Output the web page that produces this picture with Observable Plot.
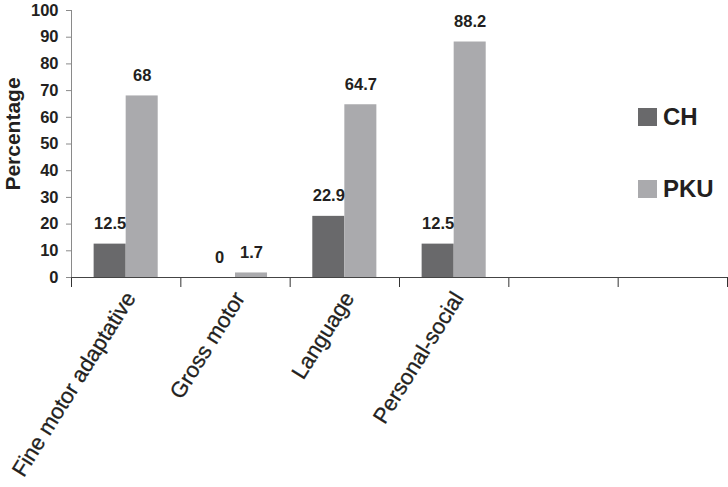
<!DOCTYPE html>
<html>
<head>
<meta charset="utf-8">
<script src="https://cdn.jsdelivr.net/npm/d3@7"></script>
<script src="https://cdn.jsdelivr.net/npm/@observablehq/plot@0.6"></script>
<style>
  html, body { margin: 0; padding: 0; background: #fff; }
  #wrap { position: relative; width: 728px; height: 487px; font-family: "Liberation Sans", Arial, sans-serif; color: #231f20; }
  #wrap svg [aria-label^="y-axis"] line, #wrap svg [aria-label^="y-axis"] path { stroke: #8a8a8a; }
  #wrap svg [aria-label^="x-axis"] line, #wrap svg [aria-label^="x-axis"] path { stroke: #333; }
  .leg { position: absolute; left: 638px; display: flex; align-items: center; font-weight: bold; font-size: 24px; }
  .leg .sw { width: 19px; height: 18px; margin-right: 6px; }
</style>
</head>
<body>
<div id="wrap"></div>
<script>
// ---- data ----
const categories = ["Fine motor adaptative", "Gross motor", "Language", "Personal-social", "", ""];
const series = ["CH", "PKU"];
const chValues = [12.5, 0, 22.9, 12.5];
const pkuValues = [68, 1.7, 64.7, 88.2];
const valueLabels = [["12.5", "0", "22.9", "12.5"], ["68", "1.7", "64.7", "88.2"]];
const yTicks = [0, 10, 20, 30, 40, 50, 60, 70, 80, 90, 100];
const colors = ["#69696b", "#aaaaad"];
const yLabel = "Percentage";

// ---- layout helpers (group padding within each category band) ----
const groupPad = 0.207, barW = 0.293;
const rows = [];
[chValues, pkuValues].forEach((vals, s) => {
  vals.forEach((v, i) => {
    const x1 = i + groupPad + s * barW;
    rows.push({cat: categories[i], series: series[s], value: v, x1, x2: x1 + barW, xm: x1 + barW / 2, label: valueLabels[s][i]});
  });
});
const catRows = categories.map((c, i) => ({c, xc: i + 0.5}));
const boundaries = categories.map((c, i) => i).concat([categories.length]);

const chart = Plot.plot({
  width: 728,
  height: 487,
  marginLeft: 71,
  marginRight: 1,
  marginTop: 10,
  marginBottom: 210,
  style: {fontFamily: "'Liberation Sans', Arial, sans-serif", fontSize: "16.5px", fontWeight: "bold", color: "#231f20", background: "#fff"},
  x: {type: "linear", domain: [0, categories.length], ticks: boundaries, tickSize: 10, tickFormat: () => "", label: null},
  y: {domain: [0, 100], ticks: yTicks, tickSize: 5, tickPadding: 8, label: null},
  color: {domain: series, range: colors},
  marks: [
    Plot.ruleX([0], {y1: 0, y2: 100, stroke: "#8a8a8a"}),
    Plot.rectY(rows, {x1: "x1", x2: "x2", y1: 0, y2: "value", fill: "series"}),
    Plot.ruleY([0], {stroke: "#444"}),
    Plot.text(rows, {x: "xm", y: "value", text: "label", dy: -15, lineAnchor: "bottom", fontSize: 16.5, fontWeight: "bold", fill: "#231f20"}),
    Plot.text(catRows, {x: "xc", y: 0, text: "c", dx: -3, dy: 12, rotate: -58, textAnchor: "end", lineAnchor: "top", fontSize: 22, fontWeight: "normal", fill: "#231f20", stroke: "#231f20", strokeWidth: 0.3}),
    Plot.text([yLabel], {frameAnchor: "left", textAnchor: "middle", dx: -58, dy: -10, rotate: -90, fontSize: 21, fontWeight: "bold", fill: "#231f20"})
  ]
});

const wrap = document.getElementById("wrap");
wrap.appendChild(chart);

// legend
const legTops = [103, 175];
series.forEach((s, k) => {
  const d = document.createElement("div");
  d.className = "leg";
  d.style.top = legTops[k] + "px";
  d.innerHTML = `<span class="sw" style="background:${colors[k]}"></span><span>${s}</span>`;
  wrap.appendChild(d);
});
</script>
</body>
</html>
